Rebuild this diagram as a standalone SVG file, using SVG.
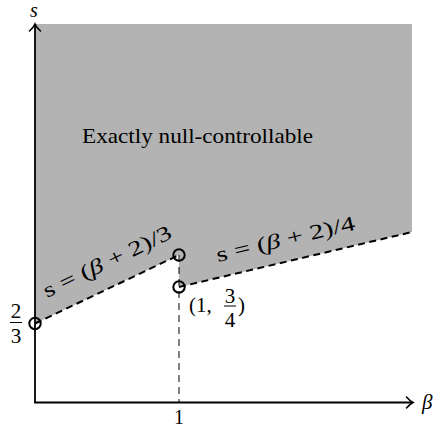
<svg xmlns="http://www.w3.org/2000/svg" width="436" height="429" viewBox="0 0 436 429">
<style>
text{font-family:'Liberation Serif','DejaVu Serif',serif;font-size:21px;fill:#000}
.it{font-style:italic}
.axis{stroke:#000;stroke-width:1.8;fill:none}
.arr{stroke:#000;stroke-width:1.6;fill:none;stroke-linecap:round}
.bd{stroke:#000;stroke-width:2;fill:none;stroke-dasharray:7 4.5}
.vd{stroke:#000;stroke-width:1;fill:none;stroke-dasharray:7 5}
.pt{stroke:#000;stroke-width:2;fill:none}
</style>
<g id="region">
<polygon points="35,24 412,24 412,232 179,287 179,255 35,323.5" fill="#b3b3b3"/>
<text x="82" y="143" textLength="231" lengthAdjust="spacingAndGlyphs">Exactly null-controllable</text>
</g>
<g id="axes">
<line class="axis" x1="35" y1="403" x2="35" y2="25"/>
<line class="axis" x1="34.1" y1="402.5" x2="412" y2="402.5"/>
<path class="arr" d="M29.5,31 Q33.5,27.5 35,24 Q36.5,27.5 40.5,31"/>
<path class="arr" d="M406.5,397 Q410,401 413,402.5 Q410,404 406.5,408"/>
<text class="it" x="34" y="17" text-anchor="middle" style="font-size:20px">s</text>
<text class="it" x="422" y="409">β</text>
<text x="179" y="424" text-anchor="middle" style="font-size:20px">1</text>
<text x="16" y="318" text-anchor="middle">2</text>
<line x1="10" y1="322.5" x2="22" y2="322.5" stroke="#000" stroke-width="1"/>
<text x="16" y="343" text-anchor="middle">3</text>
</g>
<g id="connectors">
<line class="bd" x1="35" y1="323.5" x2="179" y2="255"/>
<line class="bd" x1="179" y1="287" x2="412" y2="232"/>
<line class="vd" x1="179" y1="255" x2="179" y2="402"/>
</g>
<g id="label-left">
<text transform="translate(47,298) rotate(-25.6)" textLength="140" lengthAdjust="spacingAndGlyphs">s = (<tspan class="it">β</tspan> + 2)/3</text>
</g>
<g id="label-right">
<text transform="translate(218,262) rotate(-13.3)" textLength="142" lengthAdjust="spacingAndGlyphs">s = (<tspan class="it">β</tspan> + 2)/4</text>
</g>
<g id="point-a"><circle class="pt" cx="35" cy="323.5" r="5.7"/></g>
<g id="point-b"><circle class="pt" cx="179" cy="255" r="5.7"/></g>
<g id="point-c"><circle class="pt" cx="179" cy="287" r="5.7"/>
<text x="189" y="312">(1,</text>
<text x="230" y="303" text-anchor="middle">3</text>
<line x1="224" y1="306" x2="236" y2="306" stroke="#000" stroke-width="1"/>
<text x="230" y="327" text-anchor="middle">4</text>
<text x="238" y="312">)</text>
</g>
</svg>
